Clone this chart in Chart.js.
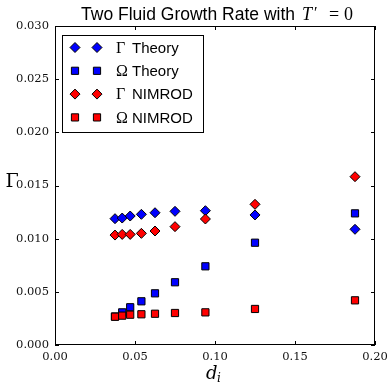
<!DOCTYPE html>
<html><head><meta charset="utf-8">
<script src="https://cdn.jsdelivr.net/npm/chart.js@4.4.1/dist/chart.umd.min.js"></script>
<style>html,body{margin:0;padding:0;background:#fff}#wrap{width:389px;height:382px;position:relative}</style>
</head><body><div id="wrap"><canvas id="c"></canvas></div>
<script>
const di = [0.0375, 0.042, 0.047, 0.054, 0.0625, 0.075, 0.094, 0.125, 0.1875];
const gammaTheory = [0.01188, 0.01194, 0.01213, 0.01229, 0.01244, 0.01257, 0.01263, 0.01223, 0.01088];
const omegaTheory = [0.00268, 0.00307, 0.00355, 0.00411, 0.00486, 0.0059, 0.0074, 0.00962, 0.01238];
const gammaNimrod = [0.01034, 0.0104, 0.0104, 0.0105, 0.01072, 0.01113, 0.01185, 0.01323, 0.01583];
const omegaNimrod = [0.00266, 0.00276, 0.00285, 0.00289, 0.00294, 0.00301, 0.00307, 0.00339, 0.0042];
const xTicks = [0.00, 0.05, 0.10, 0.15, 0.20];
const yTicks = [0.000, 0.005, 0.010, 0.015, 0.020, 0.025, 0.030];
const seriesLabels = ['Theory', 'Theory', 'NIMROD', 'NIMROD'];
const seriesSymbols = ['Γ', 'Ω', 'Γ', 'Ω'];

const BLUE = '#0000ff', RED = '#ff0000';
const pts = arr => di.map((x, i) => ({x: x, y: arr[i]}));

const defs = [
  {data: gammaTheory, color: BLUE, style: 'rectRot', order: 3},
  {data: omegaTheory, color: BLUE, style: 'rect', order: 2},
  {data: gammaNimrod, color: RED, style: 'rectRot', order: 1},
  {data: omegaNimrod, color: RED, style: 'rect', order: 0}
];

function marker(ctx, style, x, y, color) {
  ctx.save();
  ctx.fillStyle = color; ctx.strokeStyle = '#000'; ctx.lineWidth = 1;
  ctx.beginPath();
  if (style === 'rectRot') {
    const r = 5;
    ctx.moveTo(x, y - r); ctx.lineTo(x + r, y); ctx.lineTo(x, y + r); ctx.lineTo(x - r, y); ctx.closePath();
  } else {
    const s = 3.6;
    ctx.rect(x - s, y - s, 2 * s, 2 * s);
  }
  ctx.fill(); ctx.stroke();
  ctx.restore();
}

const decor = {
  id: 'decor',
  afterDraw(chart) {
    const ctx = chart.ctx, a = chart.chartArea;
    const xs = chart.scales.x, ys = chart.scales.y;
    ctx.save();
    // frame
    ctx.strokeStyle = '#000'; ctx.lineWidth = 1;
    ctx.strokeRect(Math.round(a.left) + 0.5, Math.round(a.top) + 0.5, Math.round(a.right - a.left) - 1, Math.round(a.bottom - a.top) - 1);
    // inward ticks
    const L = 4;
    ctx.beginPath();
    xTicks.forEach(v => {
      const px = Math.round(xs.getPixelForValue(v)) + 0.5;
      ctx.moveTo(px, a.bottom); ctx.lineTo(px, a.bottom - L);
      ctx.moveTo(px, a.top); ctx.lineTo(px, a.top + L);
    });
    yTicks.forEach(v => {
      const py = Math.round(ys.getPixelForValue(v)) + 0.5;
      ctx.moveTo(a.left, py); ctx.lineTo(a.left + L, py);
      ctx.moveTo(a.right, py); ctx.lineTo(a.right - L, py);
    });
    ctx.stroke();

    // title
    ctx.fillStyle = '#000'; ctx.textBaseline = 'alphabetic';
    const p1 = 'Two Fluid Growth Rate with';
    ctx.font = '16px "Liberation Sans"';
    const wRef = ctx.measureText(p1).width;
    const fs = Math.min(19, 16 * 214 / wRef);
    const ty = 20;
    ctx.font = fs.toFixed(2) + 'px "Liberation Sans"';
    ctx.textAlign = 'right';
    ctx.fillText(p1, 295, ty);
    ctx.textAlign = 'left';
    ctx.font = 'italic 18px "Liberation Serif"';
    ctx.fillText('T', 302, ty);
    ctx.font = '16px "Liberation Serif"';
    ctx.fillText('′', 314, ty - 2);
    ctx.font = '18px "Liberation Serif"';
    ctx.fillText('=', 329, ty);
    ctx.fillText('0', 344, ty);

    // y label
    ctx.font = '19px "DejaVu Serif"'; ctx.textAlign = 'center';
    ctx.fillText('Γ', 12, 187);
    // x label
    ctx.font = 'italic 18px "DejaVu Serif"'; ctx.textAlign = 'left';
    ctx.fillText('d', 206, 379);
    ctx.font = 'italic 12px "DejaVu Serif"';
    ctx.fillText('i', 217, 382);

    // legend
    const lx = 62.5, ly = 35.5, lw = 141, lh = 97;
    ctx.fillStyle = '#fff'; ctx.fillRect(lx, ly, lw, lh);
    ctx.strokeStyle = '#000'; ctx.strokeRect(lx, ly, lw, lh);
    defs.forEach((d, i) => {
      const y = 47.5 + i * 23.3;
      marker(ctx, d.style, 75, y, d.color);
      marker(ctx, d.style, 97, y, d.color);
      ctx.fillStyle = '#000'; ctx.textAlign = 'left'; ctx.textBaseline = 'middle';
      ctx.font = '16px "Liberation Serif"';
      ctx.fillText(seriesSymbols[i], 116, y + 1);
      ctx.font = '15px "Liberation Sans"';
      ctx.fillText(seriesLabels[i], 132, y + 1);
    });
    ctx.restore();
  }
};

new Chart(document.getElementById('c'), {
  type: 'scatter',
  data: {
    datasets: defs.map((d, i) => ({
      label: seriesSymbols[i] + ' ' + seriesLabels[i],
      data: pts(d.data),
      order: d.order,
      pointStyle: d.style,
      pointRadius: d.style === 'rect' ? 5.1 : 5,
      pointHoverRadius: 5,
      backgroundColor: d.color,
      borderColor: '#000',
      borderWidth: 1
    }))
  },
  options: {
    responsive: true, maintainAspectRatio: false, animation: false,
    devicePixelRatio: 1,
    layout: {padding: {left: 0, right: 14, top: 26, bottom: 0}},
    plugins: {legend: {display: false}, title: {display: false}, tooltip: {enabled: false}},
    scales: {
      x: {
        type: 'linear', min: 0, max: 0.2,
        afterBuildTicks: s => { s.ticks = xTicks.map(v => ({value: v})); },
        afterFit: s => { s.height = 37; s.paddingLeft = 0; s.paddingRight = 0; },
        grid: {display: false, drawTicks: false},
        border: {display: false},
        ticks: {color: '#111', padding: 5, maxRotation: 0, autoSkip: false,
          font: {family: '"DejaVu Serif"', size: 11.5},
          callback: v => Number(v).toFixed(2)}
      },
      y: {
        type: 'linear', min: 0, max: 0.03,
        afterBuildTicks: s => { s.ticks = yTicks.map(v => ({value: v})); },
        afterFit: s => { s.width = 55; s.paddingTop = 0; s.paddingBottom = 0; },
        grid: {display: false, drawTicks: false},
        border: {display: false},
        ticks: {color: '#111', padding: 6, autoSkip: false,
          font: {family: '"DejaVu Serif"', size: 11.5},
          callback: v => Number(v).toFixed(3)}
      }
    }
  },
  plugins: [decor]
});
</script>
</body></html>
